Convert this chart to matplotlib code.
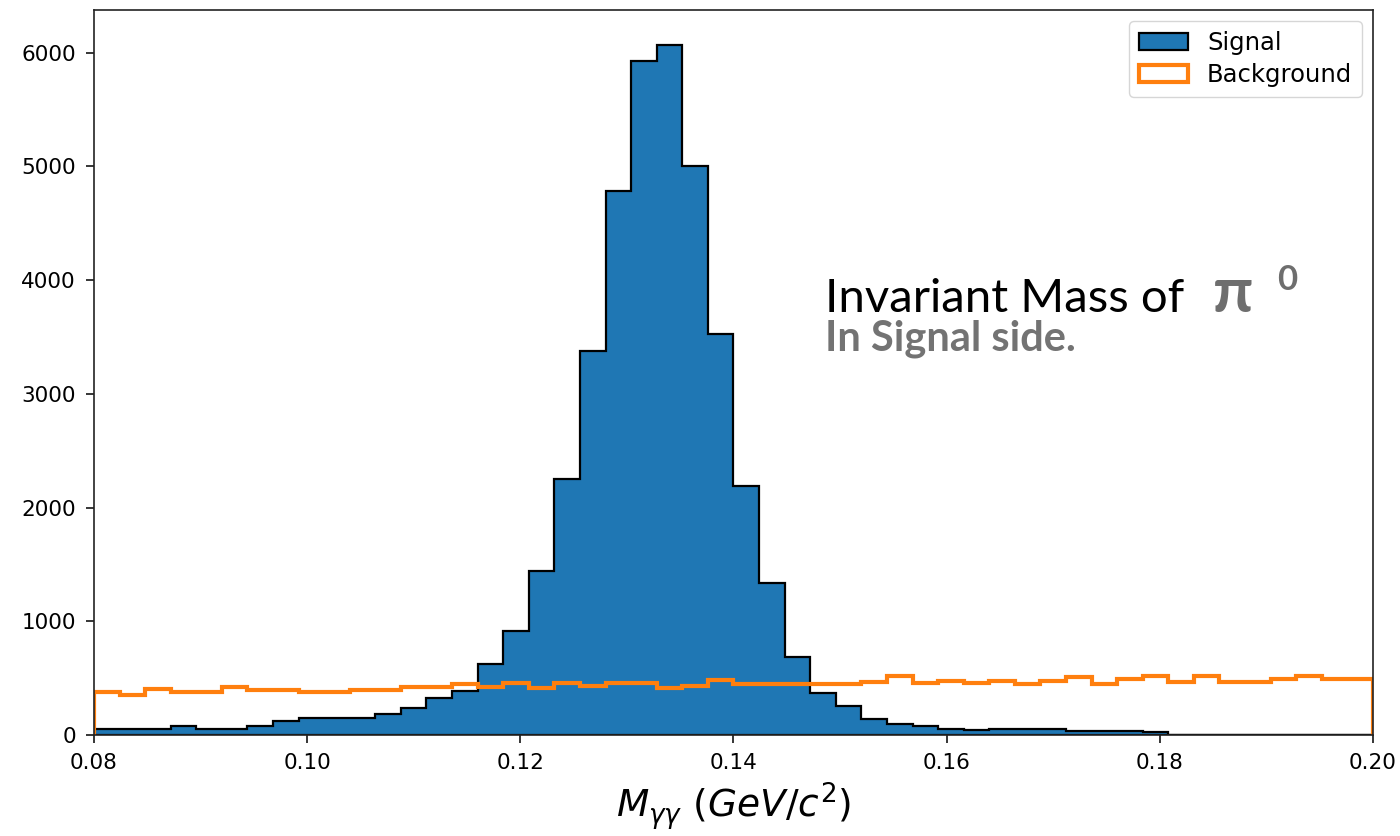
import matplotlib
matplotlib.use("Agg")
import matplotlib.pyplot as plt
import numpy as np

# Binning: 50 bins between 0.08 and 0.20 GeV/c^2
x_min, x_max, n_bins = 0.08, 0.20, 50

# Counts per bin
signal_counts = [
    55, 55, 55, 79, 55, 55, 79, 126, 146, 146,
    146, 185, 234, 322, 390, 624, 917, 1441, 2250, 3377,
    4780, 5925, 6072, 5003, 3530, 2188, 1333, 688, 366, 255,
    145, 100, 79, 55, 40, 55, 55, 55, 33, 33,
    33, 28, 4, 4, 4, 4, 4, 4, 4, 4,
]
background_counts = [
    375, 351, 401, 375, 375, 425, 395, 395, 375, 375,
    395, 395, 419, 419, 448, 420, 454, 416, 454, 433,
    460, 460, 410, 433, 480, 451, 451, 451, 451, 451,
    470, 515, 454, 475, 454, 475, 445, 475, 506, 448,
    492, 518, 469, 518, 469, 469, 492, 518, 492, 492,
]
legend_labels = ["Signal", "Background"]

edges = np.linspace(x_min, x_max, n_bins + 1)
centers = 0.5 * (edges[:-1] + edges[1:])

fig = plt.figure(figsize=(14, 8.36), dpi=100)
ax = fig.add_axes([0.0671, 0.1208, 0.9136, 0.8672])

ax.hist(centers, bins=edges, weights=signal_counts, histtype="stepfilled",
        facecolor="#1f77b4", edgecolor="black", linewidth=1.6, label=legend_labels[0])
ax.hist(centers, bins=edges, weights=background_counts, histtype="step",
        color="#ff7f0e", linewidth=3.0, label=legend_labels[1])

ax.set_xlim(x_min, x_max)
ax.set_ylim(0, max(signal_counts) * 1.05)
ax.set_xticks(np.arange(0.08, 0.2001, 0.02))
ax.set_yticks(np.arange(0, 6001, 1000))
ax.tick_params(labelsize=15.5, length=6, width=1.1, pad=7)
for s in ax.spines.values():
    s.set_linewidth(1.2)
    s.set_color("#222222")

# label kept fully inside the canvas (reference crops its descenders)
ax.set_xlabel(r"$M_{\gamma\gamma}\ (GeV/c^2)$", fontsize=27, labelpad=5)

ax.legend(loc="upper right", fontsize=17.5, handlelength=2.0, borderpad=0.4,
          labelspacing=0.35, borderaxespad=0.45)

# Slide-style annotation
fig.text(0.589, 0.627, "Invariant Mass of", family=["Lato", "DejaVu Sans"],
         fontsize=34, color="black", va="baseline")
fig.text(0.866, 0.627, "\u03c0", family=["Lato", "DejaVu Sans"], fontweight="bold",
         fontsize=46, color="#6e6e6e", va="baseline")
fig.text(0.912, 0.653, "0", family=["Lato", "DejaVu Sans"], fontweight="bold",
         fontsize=25, color="#6e6e6e", va="baseline")
fig.text(0.589, 0.581, "In Signal side.", family=["Lato", "DejaVu Sans"], fontweight="bold",
         fontsize=30, color="#737373", va="baseline")

fig.savefig("out.png", dpi=100)
